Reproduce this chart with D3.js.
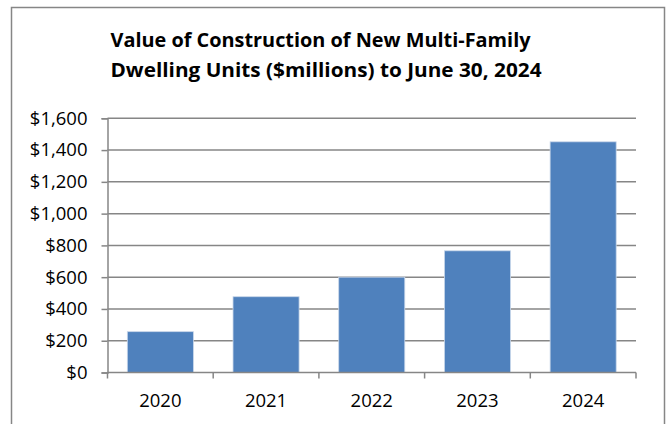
<!DOCTYPE html>
<html>
<head>
<meta charset="utf-8">
<script src="https://cdn.jsdelivr.net/npm/d3@7/dist/d3.min.js"></script>
<style>
  html, body { margin: 0; padding: 0; background: #fff; }
  svg { display: block; }
  text { font-family: "Open Sans", Lato, sans-serif; fill: #000; }
</style>
</head>
<body>
<svg id="chart" width="670" height="424"></svg>
<script>
// Construction value of new multi-family dwelling units, $ millions
const years = ["2020", "2021", "2022", "2023", "2024"];
const values = [257, 477, 600, 766, 1452];
const yTicks = [0, 200, 400, 600, 800, 1000, 1200, 1400, 1600];
const titleLines = [
  "Value of Construction of New Multi-Family",
  "Dwelling Units ($millions) to June 30, 2024"
];

const svg = d3.select("#chart");
const plot = { left: 107.5, right: 636, top: 118.3, bottom: 372.5 };
const axisGray = "#868686";
const labelSize = 18.5;

// outer frame
svg.append("rect")
  .attr("x", 11.5).attr("y", 7.5)
  .attr("width", 653).attr("height", 430)
  .attr("fill", "#fff")
  .attr("stroke", axisGray).attr("stroke-width", 1.5);

// title, two lines
const titleWidths = [420, 431];
svg.append("g")
  .selectAll("text")
  .data(titleLines)
  .join("text")
  .attr("x", 110.5)
  .attr("y", (d, i) => 47 + i * 29.5)
  .attr("font-weight", "bold")
  .attr("font-size", 18.8)
  .attr("textLength", (d, i) => titleWidths[i])
  .attr("lengthAdjust", "spacingAndGlyphs")
  .text(d => d);

const x = d3.scaleBand()
  .domain(years)
  .range([plot.left, plot.right])
  .paddingInner(0.375)
  .paddingOuter(0.1875);

const y = d3.scaleLinear()
  .domain([0, 1600])
  .range([plot.bottom, plot.top]);

// horizontal gridlines
svg.append("g")
  .selectAll("line")
  .data(yTicks.filter(d => d > 0))
  .join("line")
  .attr("x1", plot.left).attr("x2", plot.right)
  .attr("y1", d => y(d)).attr("y2", d => y(d))
  .attr("stroke", axisGray).attr("stroke-width", 1.5);

// bars
svg.append("g")
  .selectAll("rect")
  .data(years.map((yr, i) => ({ yr, v: values[i] })))
  .join("rect")
  .attr("x", d => x(d.yr))
  .attr("y", d => y(d.v))
  .attr("width", x.bandwidth())
  .attr("height", d => y(0) - y(d.v))
  .attr("fill", "#4f81bd")
  .attr("stroke", "#c9d7ea").attr("stroke-width", 0.8);

// y axis
const yAxis = d3.axisLeft(y)
  .tickValues(yTicks)
  .tickSize(6)
  .tickPadding(14)
  .tickFormat(d => "$" + d3.format(",")(d));
const gy = svg.append("g")
  .attr("transform", `translate(${plot.left},0)`)
  .call(yAxis);
gy.select(".domain").attr("stroke", axisGray).attr("stroke-width", 1.5);
gy.selectAll(".tick line").attr("stroke", axisGray).attr("stroke-width", 1.5);
gy.selectAll(".tick text")
  .attr("font-size", labelSize)
  .attr("font-family", "'Open Sans', sans-serif")
  .attr("fill", "#000");

// x axis with ticks at category boundaries
svg.append("line")
  .attr("x1", plot.left).attr("x2", plot.right)
  .attr("y1", plot.bottom).attr("y2", plot.bottom)
  .attr("stroke", axisGray).attr("stroke-width", 1.5);
const step = x.step();
const bounds = d3.range(years.length + 1).map(i => plot.left + i * step);
svg.append("g")
  .selectAll("line")
  .data(bounds)
  .join("line")
  .attr("x1", d => d).attr("x2", d => d)
  .attr("y1", plot.bottom).attr("y2", plot.bottom + 6)
  .attr("stroke", axisGray).attr("stroke-width", 1.5);
svg.append("g")
  .selectAll("text")
  .data(years)
  .join("text")
  .attr("x", d => x(d) + x.bandwidth() / 2)
  .attr("y", 407)
  .attr("text-anchor", "middle")
  .attr("font-size", labelSize)
  .text(d => d);
</script>
</body>
</html>
